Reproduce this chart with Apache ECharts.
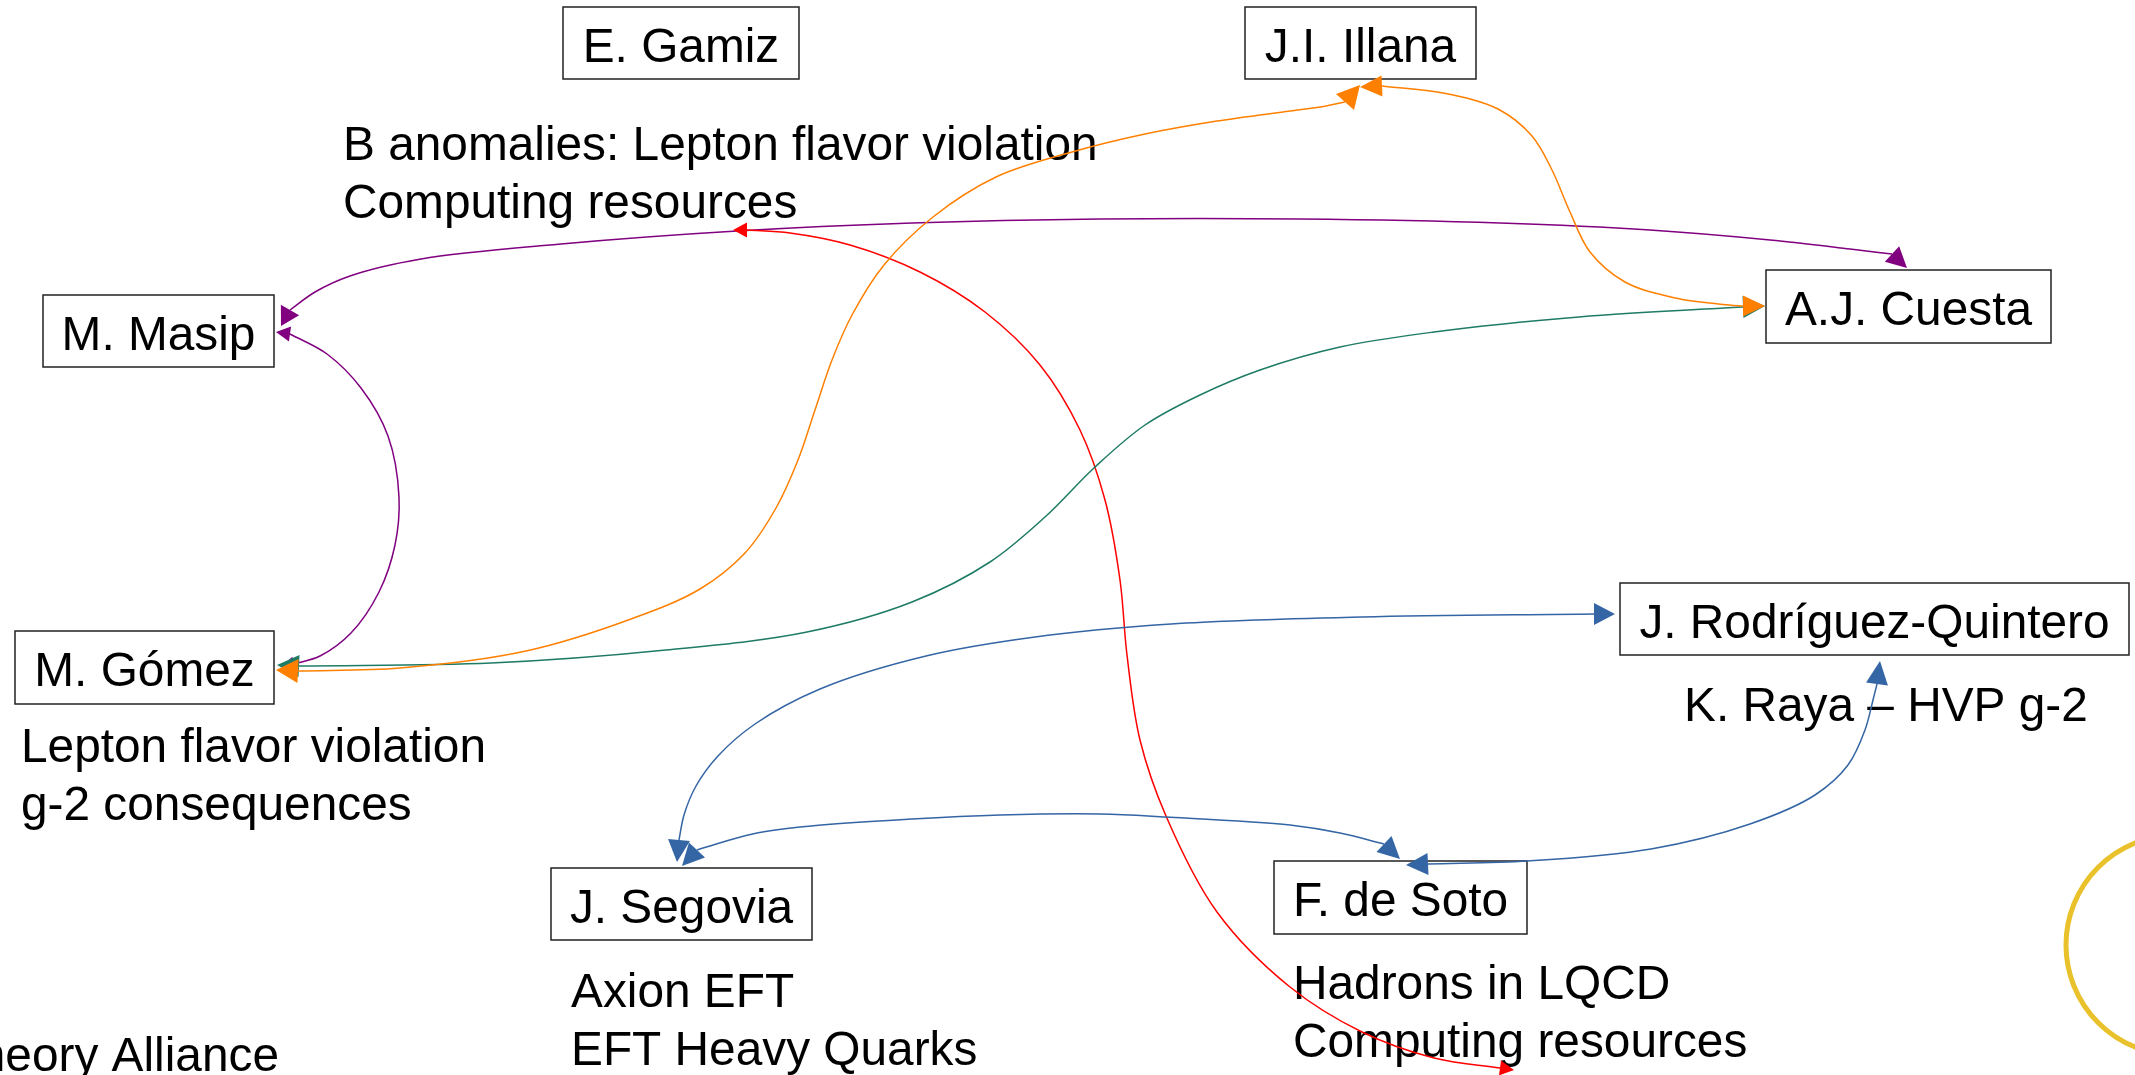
<!DOCTYPE html>
<html><head><meta charset="utf-8">
<script src="https://cdn.jsdelivr.net/npm/echarts@6/dist/echarts.min.js"></script>
<style>html,body{margin:0;padding:0;background:#fff;overflow:hidden}#c{width:2135px;height:1075px}</style>
</head><body><div id="c"></div>
<script>
// ---- boxed names (diagram coordinates) ----
const boxNames  = ['E. Gamiz','J.I. Illana','A.J. Cuesta','M. Masip','M. Gómez','J. Rodríguez-Quintero','J. Segovia','F. de Soto'];
const boxLeft   = [563, 1245, 1766, 43, 15, 1620, 551, 1274];
const boxTop    = [7, 7, 270, 295, 631, 583, 868, 861];
const boxRight  = [799, 1476, 2051, 274, 274, 2129, 812, 1527];
const boxBottom = [79, 79, 343, 367, 704, 655, 940, 934];

// ---- free notes ----
const noteTexts = ['B anomalies: Lepton flavor violation\nComputing resources',
                   'Lepton flavor violation\ng-2 consequences',
                   'K. Raya – HVP g-2',
                   'Axion EFT\nEFT Heavy Quarks',
                   'Hadrons in LQCD\nComputing resources',
                   'Theory Alliance'];
const noteX        = [343, 21, 1684, 571, 1293, 279];
const noteBaseline = [163, 765, 724, 1010, 1002, 1074];
const noteAlign    = ['left','left','left','left','left','right'];

// ---- connections: start tip, start base, ..., end base, end tip ----
const edgeMasipCuesta = [[281,326],[290,310],[315,292],[350,276],[421,259],[561,244],[737,231],[912,223],[1100,219],[1300,219],[1500,223],[1650,230],[1770,240],[1850,249],[1892,254],[1907,268]];
const edgeMasipGomez  = [[276,332],[290,334],[327,354],[361,388],[388,436],[399,497],[395,545],[379,592],[351,633],[320,656],[294,664],[281,667]];
const edgeComputing   = [[733,230],[747,230],[790,233],[850,245],[920,272],[985,312],[1040,365],[1080,430],[1105,500],[1120,580],[1127,655],[1140,740],[1166,816],[1217,912],[1290,987],[1362,1032],[1434,1058],[1500,1068],[1514,1070]];
const edgeGomezIllana = [[276,670],[298,671],[400,668],[526,651],[631,619],[700,589],[745,553],[776,508],[798,460],[815,410],[832,360],[852,315],[884,265],[933,217],[996,177],[1072,152],[1145,134],[1217,121],[1290,111],[1326,106],[1345,102],[1360,85]];
const edgeIllanaCuesta= [[1360,87],[1382,86],[1443,93],[1498,109],[1532,136],[1552,170],[1570,212],[1590,252],[1625,282],[1675,298],[1729,305],[1743,306],[1765,306]];
const edgeGomezCuesta = [[277,665],[299,666],[491,663],[666,650],[807,632],[912,602],[990,562],[1045,517],[1095,467],[1145,425],[1200,395],[1260,370],[1340,347],[1434,332],[1579,317],[1724,308],[1743,307],[1765,306]];
const edgeSegoviaRQ   = [[677,862],[679,840],[684,815],[696,786],[718,756],[755,724],[820,689],[926,656],[1035,637],[1171,624],[1362,617],[1594,614],[1615,614]];
const edgeSegoviaSoto = [[682,866],[697,850],[723,842],[757,833],[800,827],[912,819],[1000,815],[1100,814],[1166,817],[1290,825],[1340,833],[1384,844],[1400,859]];
const edgeSotoRQ      = [[1406,865],[1428,864],[1528,861],[1651,849],[1750,824],[1815,795],[1848,765],[1865,730],[1873,700],[1877,684],[1880,661]];

const edges      = [edgeMasipCuesta, edgeMasipGomez, edgeComputing, edgeGomezCuesta, edgeGomezIllana, edgeIllanaCuesta, edgeSegoviaRQ, edgeSegoviaSoto, edgeSotoRQ];
const edgeColors = ['#800080','#800080','#ff0000','#1e7b65','#ff8000','#ff8000','#3465a4','#3465a4','#3465a4'];
const arrowWidth = [21, 15, 15, 22, 24, 21, 22, 22, 22];

// ---- decorative ring ----
const ringCenter = [2176, 945];
const ringRadius = [110];

const FONT = '"Liberation Sans", Arial, sans-serif';
const FS = 47.8, LH = 58;

// centripetal Catmull-Rom through the points, as cubic Bezier path
function smoothPath(p) {
  let d = 'M' + p[0][0] + ' ' + p[0][1];
  const dist = (a, b) => Math.max(Math.hypot(b[0] - a[0], b[1] - a[1]), 1e-6);
  for (let i = 0; i < p.length - 1; i++) {
    const p1 = p[i], p2 = p[i + 1];
    const p0 = p[i - 1] || [2 * p1[0] - p2[0], 2 * p1[1] - p2[1]];
    const p3 = p[i + 2] || [2 * p2[0] - p1[0], 2 * p2[1] - p1[1]];
    const d1 = Math.sqrt(dist(p0, p1)), d2 = Math.sqrt(dist(p1, p2)), d3 = Math.sqrt(dist(p2, p3));
    const c1 = [0, 1].map(k => (d1 * d1 * p2[k] - d2 * d2 * p0[k] + (2 * d1 * d1 + 3 * d1 * d2 + d2 * d2) * p1[k]) / (3 * d1 * (d1 + d2)));
    const c2 = [0, 1].map(k => (d3 * d3 * p1[k] - d2 * d2 * p3[k] + (2 * d3 * d3 + 3 * d3 * d2 + d2 * d2) * p2[k]) / (3 * d3 * (d3 + d2)));
    d += ' C' + c1[0] + ' ' + c1[1] + ' ' + c2[0] + ' ' + c2[1] + ' ' + p2[0] + ' ' + p2[1];
  }
  return d;
}
function arrowHead(tip, base, w) {
  const dx = tip[0] - base[0], dy = tip[1] - base[1];
  const L = Math.hypot(dx, dy) || 1;
  const nx = -dy / L * w / 2, ny = dx / L * w / 2;
  return [tip, [base[0] + nx, base[1] + ny], [base[0] - nx, base[1] - ny]];
}

const chart = echarts.init(document.getElementById('c'), null, {renderer: 'canvas'});
chart.setOption({
  backgroundColor: '#ffffff',
  animation: false,
  grid: {left: 0, right: 0, top: 0, bottom: 0},
  xAxis: {type: 'value', min: 0, max: 2135, show: false},
  yAxis: {type: 'value', min: 0, max: 1075, inverse: true, show: false},
  series: [
    { // notes
      type: 'custom', coordinateSystem: 'cartesian2d', silent: true, z: 1,
      data: noteTexts.map((t, i) => [noteX[i], noteBaseline[i]]),
      renderItem: function (params, api) {
        const i = params.dataIndex;
        const pt = api.coord([api.value(0), api.value(1)]);
        return {type: 'text', x: pt[0], y: pt[1] - FS * 0.3465 - LH / 2,
          style: {text: noteTexts[i], fill: '#000', fontSize: FS, fontFamily: FONT,
                  align: noteAlign[i], verticalAlign: 'top', lineHeight: LH}};
      }
    },
    { // boxes
      type: 'custom', coordinateSystem: 'cartesian2d', silent: true, z: 2,
      data: boxNames.map((n, i) => [boxLeft[i], boxTop[i], boxRight[i], boxBottom[i]]),
      renderItem: function (params, api) {
        const i = params.dataIndex;
        const a = api.coord([api.value(0), api.value(1)]);
        const b = api.coord([api.value(2), api.value(3)]);
        const cx = (a[0] + b[0]) / 2, cy = (a[1] + b[1]) / 2;
        return {type: 'group', children: [
          {type: 'rect', shape: {x: a[0], y: a[1], width: b[0] - a[0], height: b[1] - a[1]},
           style: {fill: '#fff', stroke: '#222', lineWidth: 1.5}},
          {type: 'text', x: cx, y: cy + 22 - FS * 0.3465,
           style: {text: boxNames[i], fill: '#000', fontSize: FS, fontFamily: FONT,
                   align: 'center', verticalAlign: 'middle'}}
        ]};
      }
    },
    { // connections
      type: 'custom', coordinateSystem: 'cartesian2d', silent: true, z: 3,
      data: edges.map((e, i) => [e[0][0], e[0][1]]),
      renderItem: function (params, api) {
        const i = params.dataIndex;
        const px = edges[i].map(p => api.coord(p));
        const n = px.length;
        const col = edgeColors[i];
        return {type: 'group', children: [
          {type: 'path', shape: {pathData: smoothPath(px.slice(1, n - 1))},
           style: {fill: 'none', stroke: col, lineWidth: 1.5}},
          {type: 'polygon', shape: {points: arrowHead(px[0], px[1], arrowWidth[i])}, style: {fill: col}},
          {type: 'polygon', shape: {points: arrowHead(px[n - 1], px[n - 2], arrowWidth[i])}, style: {fill: col}}
        ]};
      }
    },
    { // ring
      type: 'custom', coordinateSystem: 'cartesian2d', silent: true, z: 1,
      data: [[ringCenter[0], ringCenter[1], ringRadius[0]]],
      renderItem: function (params, api) {
        const c = api.coord([api.value(0), api.value(1)]);
        const r = api.size([api.value(2), 0])[0];
        return {type: 'circle', shape: {cx: c[0], cy: c[1], r: r},
                style: {fill: 'none', stroke: '#e9c12b', lineWidth: 5}};
      }
    }
  ]
});
</script></body></html>
